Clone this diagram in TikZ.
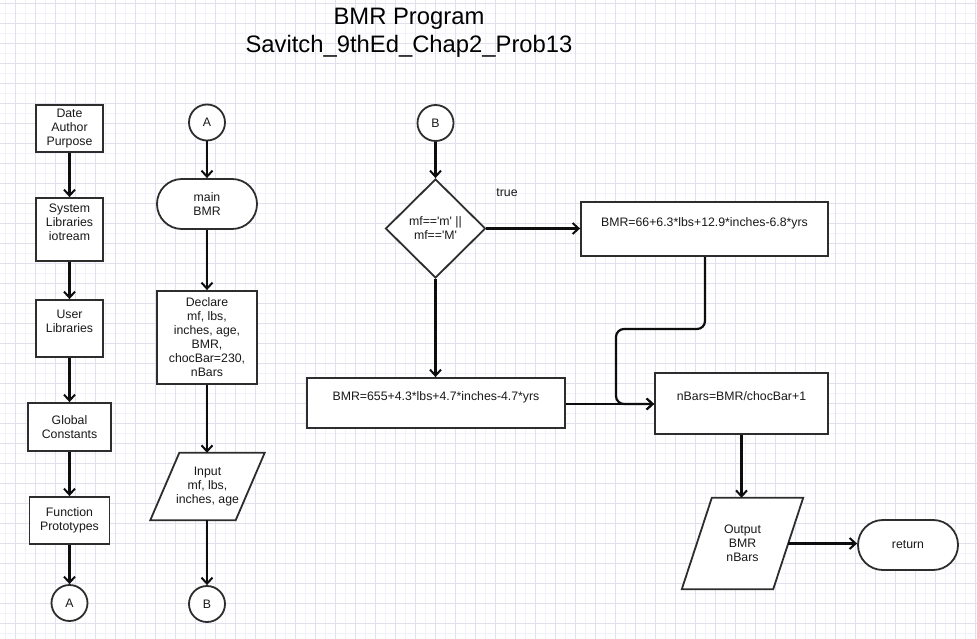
\documentclass[tikz,border=0pt]{standalone}
\usepackage{fontspec}
\setmainfont{Liberation Sans}
\usetikzlibrary{shapes.geometric,arrows.meta}
\definecolor{gridminor}{RGB}{242,242,250}
\definecolor{gridmajor}{RGB}{224,224,238}
\definecolor{shapeline}{RGB}{45,45,45}
\begin{document}
\begin{tikzpicture}[x=1pt,y=-1pt,
  every node/.style={font=\fontsize{12.3}{14}\selectfont, text=black!90, align=center, inner sep=0pt},
  box/.style={draw=shapeline, line width=1.8pt, fill=white, rectangle},
  sz/.style 2 args={minimum width=#1pt, minimum height=#2pt},
  conn/.style={draw=shapeline, line width=1.8pt, fill=white, circle, minimum size=36pt},
  term/.style={draw=shapeline, line width=1.8pt, fill=white, rectangle, rounded corners=24.9pt, minimum width=100pt, minimum height=50pt},
  decision/.style={draw=shapeline, line width=1.8pt, fill=white, diamond, aspect=1, minimum width=100pt, minimum height=99pt},
  pgram/.style={rectangle},
  pgline/.style={draw=shapeline, line width=1.8pt, fill=white, line join=miter},
  arr/.style={draw=black!95, line width=2.2pt, -{Straight Barb[length=6pt,width=11pt,line width=2pt]}},
  title/.style={font=\fontsize{23.8}{27}\selectfont, text=black}
]
\useasboundingbox (0,0) rectangle (977,639);
\fill[white] (0,0) rectangle (977,639);
% grid
\foreach \gx in {5,25,...,975} \draw[gridminor, line width=0.8pt] (\gx,0) -- (\gx,639);
\foreach \gy in {13,33,...,633} \draw[gridminor, line width=0.8pt] (0,\gy) -- (977,\gy);
\foreach \gx in {15,35,...,975} \draw[gridmajor, line width=0.8pt] (\gx,0) -- (\gx,639);
\foreach \gy in {3,23,...,633} \draw[gridmajor, line width=0.8pt] (0,\gy) -- (977,\gy);

% title
\node[title] (t1) at (409,19) {BMR Program};
\node[title] (t2) at (409,46) {Savitch\_9thEd\_Chap2\_Prob13};

% left column
\node[box, sz={67}{47}] (dap) at (69.5,128.5) {Date\\Author\\Purpose};
\node[box, sz={67}{63}] (sys) at (69.5,229.5) {System\\Libraries\\iotream\\\mbox{}};
\node[box, sz={67}{57}] (usr) at (69.5,328.5) {User\\Libraries\\\mbox{}};
\node[box, sz={83}{48}] (glb) at (69.5,427) {Global\\Constants};
\node[box, sz={80}{47}] (fnp) at (69.5,520.5) {Function\\Prototypes};
\node[conn] (ca1) at (69.5,603) {A};

\draw[arr] (dap) -- (sys);
\draw[arr] (sys) -- (usr);
\draw[arr] (usr) -- (glb);
\draw[arr] (glb) -- (fnp);
\draw[arr] (fnp) -- (ca1);

% middle column
\node[conn] (ca2) at (207,122.5) {A};
\node[term] (mainb) at (207,204) {main\\BMR};
\node[box, sz={100}{93}] (decl) at (207,337.5) {Declare\\mf, lbs,\\inches, age,\\BMR,\\chocBar=230,\\nBars};
\node[pgram, sz={114}{67}] (inp) at (207.5,486.5) {};
\path[pgline] ([xshift=29pt]inp.north west) -- (inp.north east) -- ([xshift=-29pt]inp.south east) -- (inp.south west) -- cycle;
\node (inpt) at (inp.center) {Input\\mf, lbs,\\inches, age};
\node[conn] (cb1) at (207,604) {B};

\draw[arr] (ca2) -- (mainb);
\draw[arr] (mainb) -- (decl);
\draw[arr] (decl) -- (inp.north -| decl.south);
\draw[arr] (inp.south -| cb1.north) -- (cb1);

% right section
\node[conn] (cb2) at (435.5,123) {B};
\node[decision] (dec) at (435.5,228.5) {mf==\textquotesingle m\textquotesingle\ ||\\mf==\textquotesingle M\textquotesingle};
\node[box, sz={247}{54}] (bm66) at (704.5,229) {BMR=66+6.3*lbs+12.9*inches-6.8*yrs\\\mbox{}};
\node[box, sz={258}{50}] (bm655) at (436,403) {BMR=655+4.3*lbs+4.7*inches-4.7*yrs\\\mbox{}};
\node[box, sz={173}{61}] (nb) at (741.5,403.5) {nBars=BMR/chocBar+1\\\mbox{}};
\node[pgram, sz={121}{91}] (outp) at (742.5,543.5) {};
\path[pgline] ([xshift=30pt]outp.north west) -- (outp.north east) -- ([xshift=-30pt]outp.south east) -- (outp.south west) -- cycle;
\node (outpt) at (outp.center) {Output\\BMR\\nBars};
\node[term] (ret) at (908,545) {return};
\node (lt) at (507,193) {true};

\coordinate (j1) at (705,329);
\coordinate (j2) at (616,329);
\coordinate (j3) at (616,404);
\coordinate (oe) at ([xshift=-15pt]outp.east);

\draw[arr] (cb2) -- (dec);
\draw[arr] (dec.east) -- (bm66.west |- dec.east);
\draw[arr] (dec.south) -- (bm655.north -| dec.south);
\draw[arr] (bm655.east |- j3) -- (nb.west |- j3);
\draw[arr, rounded corners=8pt] (bm66.south -| j1) -- (j1) -- (j2) -- (j3) -- (nb.west |- j3);
\draw[arr] (nb.south) -- (outp.north -| nb.south);
\draw[arr] (oe) -- (ret.west |- oe);
\end{tikzpicture}
\end{document}
